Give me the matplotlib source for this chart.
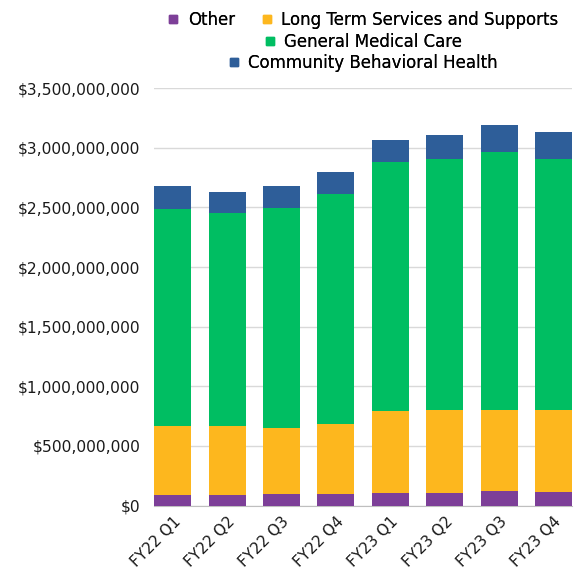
import matplotlib
matplotlib.use("Agg")
import matplotlib.pyplot as plt
import matplotlib.ticker as mticker
from matplotlib.lines import Line2D
import numpy as np

plt.rcParams['font.family'] = ['DejaVu Sans']

quarters = ['FY22 Q1', 'FY22 Q2', 'FY22 Q3', 'FY22 Q4',
            'FY23 Q1', 'FY23 Q2', 'FY23 Q3', 'FY23 Q4']

# in dollars (stack totals converted to segments below)
other = [92e6, 92e6, 100e6, 100e6, 109e6, 109e6, 125e6, 117e6]
ltss_top = [669e6, 669e6, 652e6, 686e6, 794e6, 803e6, 803e6, 803e6]
gmc_top = [2486e6, 2452e6, 2494e6, 2611e6, 2880e6, 2905e6, 2964e6, 2905e6]
cbh_top = [2681e6, 2633e6, 2678e6, 2795e6, 3061e6, 3103e6, 3187e6, 3130e6]

series = ['Other', 'Long Term Services and Supports',
          'General Medical Care', 'Community Behavioral Health']
colors = ['#7D3F98', '#FDB71E', '#00BE62', '#2E5E99']


def main():
    ltss = np.array(ltss_top) - np.array(other)
    gmc = np.array(gmc_top) - np.array(ltss_top)
    cbh = np.array(cbh_top) - np.array(gmc_top)
    values = [np.array(other), ltss, gmc, cbh]

    fig = plt.figure(figsize=(5.82, 5.72), dpi=100)
    ax = fig.add_axes([0.265, 0.116, 0.718, 0.730])

    x = np.arange(len(quarters))
    bottom = np.zeros(len(quarters))
    for vals, col in zip(values, colors):
        ax.bar(x, vals, 0.68, bottom=bottom, color=col, zorder=3)
        bottom += vals

    ax.set_ylim(0, 3.5e9)
    ax.set_xlim(-0.34, len(quarters) - 1 + 0.34)
    ax.yaxis.set_major_locator(mticker.MultipleLocator(5e8))
    ax.yaxis.set_major_formatter(mticker.FuncFormatter(lambda v, p: f'${v:,.0f}'))
    ax.grid(axis='y', color='#D9D9D9', lw=1, zorder=0)

    for s in ['top', 'right', 'left']:
        ax.spines[s].set_visible(False)
    ax.spines['bottom'].set_color('#BFBFBF')
    ax.tick_params(axis='y', length=0, pad=10, labelsize=11.2, labelcolor='#1a1a1a')
    ax.tick_params(axis='x', length=0, pad=6, labelsize=11, labelcolor='#1a1a1a')
    ax.set_xticks(x)
    ax.set_xticklabels(quarters, rotation=45, ha='right', rotation_mode='anchor')

    handles = [Line2D([], [], ls='none', marker='s', ms=6, color=c) for c in colors]
    rows = [([0, 1], 0.965), ([2], 0.927), ([3], 0.890)]
    cx = 0.265 + 0.718 / 2
    for idx, yy in rows:
        leg = fig.legend([handles[i] for i in idx], [series[i] for i in idx],
                         loc='center', bbox_to_anchor=(cx, yy), ncol=len(idx),
                         frameon=False, fontsize=12, handlelength=0.7,
                         handletextpad=0.5, columnspacing=1.6,
                         borderpad=0, borderaxespad=0)
        fig.add_artist(leg)

    fig.savefig('out.png', dpi=100)


if __name__ == '__main__':
    main()
